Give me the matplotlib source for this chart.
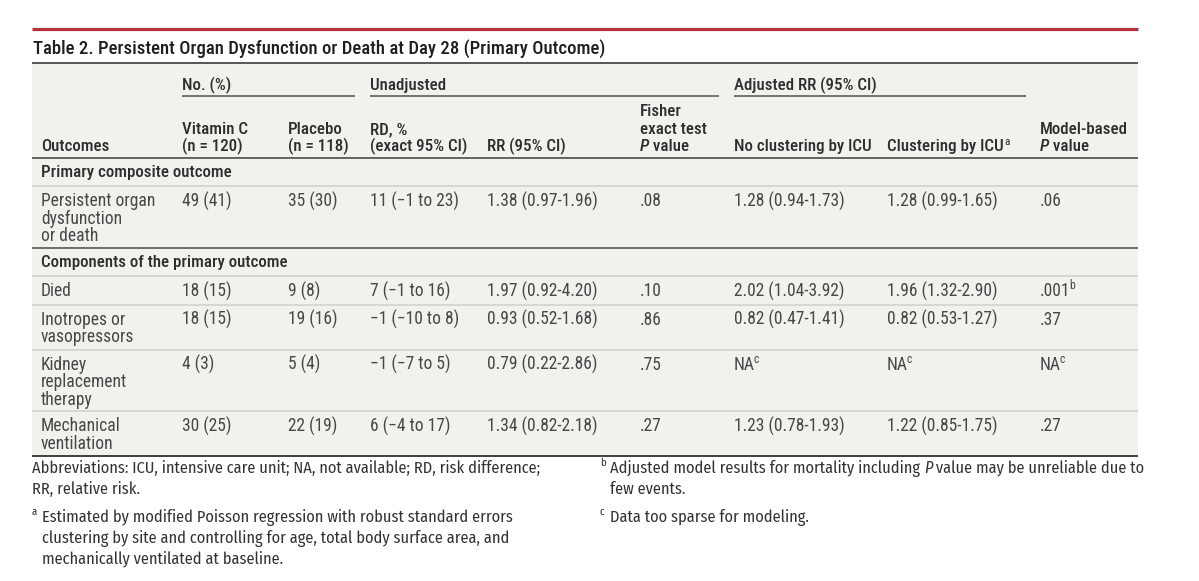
import matplotlib
matplotlib.use("Agg")
import matplotlib.pyplot as plt

# ---------------- data ----------------
title = "Table 2. Persistent Organ Dysfunction or Death at Day 28 (Primary Outcome)"
group_headers = ["No. (%)", "Unadjusted", "Adjusted RR (95% CI)"]
column_headers = [
    ["Outcomes"],
    ["Vitamin C", "(n = 120)"],
    ["Placebo", "(n = 118)"],
    ["RD, %", "(exact 95% CI)"],
    ["RR (95% CI)"],
    ["Fisher", "exact test", "*P* value"],
    ["No clustering by ICU"],
    ["Clustering by ICU^a"],
    ["Model-based", "*P* value"],
]
sections = ["Primary composite outcome", "Components of the primary outcome"]
outcomes = ["Persistent organ\ndysfunction\nor death", "Died", "Inotropes or\nvasopressors",
            "Kidney\nreplacement\ntherapy", "Mechanical\nventilation"]
outcome_section = [0, 1, 1, 1, 1]
vitamin_c = ["49 (41)", "18 (15)", "18 (15)", "4 (3)", "30 (25)"]
placebo = ["35 (30)", "9 (8)", "19 (16)", "5 (4)", "22 (19)"]
rd_pct = ["11 (\u22121 to 23)", "7 (\u22121 to 16)", "\u22121 (\u221210 to 8)", "\u22121 (\u22127 to 5)", "6 (\u22124 to 17)"]
rr_ci = ["1.38 (0.97-1.96)", "1.97 (0.92-4.20)", "0.93 (0.52-1.68)", "0.79 (0.22-2.86)", "1.34 (0.82-2.18)"]
fisher_p = [".08", ".10", ".86", ".75", ".27"]
adj_no_cluster = ["1.28 (0.94-1.73)", "2.02 (1.04-3.92)", "0.82 (0.47-1.41)", "NA^c", "1.23 (0.78-1.93)"]
adj_cluster = ["1.28 (0.99-1.65)", "1.96 (1.32-2.90)", "0.82 (0.53-1.27)", "NA^c", "1.22 (0.85-1.75)"]
model_p = [".06", ".001^b", ".37", "NA^c", ".27"]
footnotes_left = [
    ("", ["Abbreviations: ICU, intensive care unit; NA, not available; RD, risk difference;",
          "RR, relative risk."]),
    ("a", ["Estimated by modified Poisson regression with robust standard errors",
           "clustering by site and controlling for age, total body surface area, and",
           "mechanically ventilated at baseline."]),
]
footnotes_right = [
    ("b", ["Adjusted model results for mortality including *P* value may be unreliable due to",
           "few events."]),
    ("c", ["Data too sparse for modeling."]),
]

# ---------------- style ----------------
TABLE_FONT = ["Roboto Condensed", "Roboto", "DejaVu Sans"]
NOTE_FONT = ["Fira Sans Condensed", "Roboto Condensed", "DejaVu Sans"]
plt.rcParams["font.family"] = TABLE_FONT
BG = "#f2f1ec"
TXT = "#474747"
HDR = "#2e2e2e"
DARK = "#5a5a5a"
LIGHT = "#d9d7d1"
RED = "#b5323e"

W, H = 1199, 581
fig = plt.figure(figsize=(W / 100, H / 100), dpi=100)
fig.patch.set_facecolor("white")
ax = fig.add_axes([0, 0, 1, 1])
ax.set_xlim(0, W)
ax.set_ylim(H, 0)
ax.axis("off")
renderer = fig.canvas.get_renderer()


def text_width(s, size, weight="normal", family=None, style="normal"):
    t = ax.text(0, 0, s, fontsize=size, fontweight=weight, family=family or TABLE_FONT,
                fontstyle=style)
    w = t.get_window_extent(renderer).width
    t.remove()
    return w


def fit_size(sample, target_px, weight="normal", family=None):
    return 10.0 * target_px / text_width(sample, 10.0, weight, family)


# font sizes fitted to the measured widths of sample strings in the reference
FS = 0.5 * (fit_size("1.38 (0.97-1.96)", 116, "normal") + fit_size("Persistent organ", 108, "normal"))
FS_H = fit_size("No clustering by ICU", 137, "medium")
FS_TITLE = fit_size(title, 568, "medium")
FS_NOTE = (fit_size("Abbreviations: ICU, intensive care unit; NA, not available; RD, risk difference;",
                    515, "normal", NOTE_FONT) *
           fit_size("Adjusted model results for mortality including P value may be unreliable due to",
                    522, "normal", NOTE_FONT)) ** 0.5

L, R = 32, 1138
col_x = [41, 182, 288, 370, 487, 640, 734, 887, 1040]
group_x = [(182, 355), (370, 719), (734, 1026)]
LS = 17.4    # line spacing in table
NLS = 21.0   # line spacing in notes


def base(size):
    return size * 1.389 * 0.70 / 2.0


def parse(s):
    parts = []
    sup = None
    if "^" in s:
        s, sup = s.split("^")
    if s.startswith("*"):
        _, it, rest = s.split("*", 2)
        parts.append((it, {"style": "italic"}))
        if rest:
            parts.append((rest, {}))
    elif "*" in s:
        a, it, rest = s.split("*", 2)
        parts.append((a, {}))
        parts.append((it, {"style": "italic"}))
        parts.append((rest, {}))
    else:
        parts.append((s, {}))
    if sup:
        parts.append((sup, {"sup": True}))
    return parts


def rich(x, yc, s, size=None, color=TXT, weight="normal", family=None):
    size = size or FS
    family = family or TABLE_FONT
    b = base(size)
    cur = x
    for txt, kw in parse(s):
        if kw.get("sup"):
            shift = -1.6 if weight == "normal" else 0.8
            t = ax.text(cur + shift, yc + b - size * 0.55, txt, fontsize=size * 0.66, color=color,
                        va="baseline", ha="left", family=family)
        else:
            t = ax.text(cur, yc + b, txt, fontsize=size, color=color, va="baseline",
                        ha="left", fontweight=weight, fontstyle=kw.get("style", "normal"),
                        family=family)
        cur += t.get_window_extent(renderer).width
    return cur


def hline(y, x0, x1, color, lw_px):
    ax.plot([x0, x1], [y, y], color=color, lw=lw_px * 0.72, solid_capstyle="butt")


# red rule and title
hline(28.5, L, R, RED, 3.2)
ax.text(L + 1, 47 + base(FS_TITLE), title, fontsize=FS_TITLE, color="#1f1f1f", va="baseline",
        ha="left", fontweight="medium")

top, header_bottom = 63.0, 157.5
rows_layout = []
cur = header_bottom
sec_prev = None
for i, name in enumerate(outcomes):
    if outcome_section[i] != sec_prev:
        rows_layout.append(("section", sections[outcome_section[i]], cur))
        cur += 28.5
        sec_prev = outcome_section[i]
    n = name.count("\n") + 1
    rows_layout.append(("row", i, cur))
    cur += 28.5 + 16.5 * (n - 1)
bottom = cur
ax.add_patch(plt.Rectangle((L, top), R - L, bottom - top, facecolor=BG, edgecolor="none", zorder=0))

# header
hline(top, L, R, DARK, 2.0)
for (x0, x1), g in zip(group_x, group_headers):
    rich(x0, 84, g, size=FS_H, color=HDR, weight="medium")
    hline(95.5, x0, x1, DARK, 1.6)
last_y = 145.3
for x, lines in zip(col_x, column_headers):
    n = len(lines)
    for k, ln in enumerate(lines):
        rich(x, last_y - (n - 1 - k) * LS, ln, size=FS_H, color=HDR, weight="medium")
hline(header_bottom, L, R, "#444444", 1.6)

# body
first = True
for kind, val, ytop in rows_layout:
    if kind == "section":
        if not first:
            hline(ytop, L, R, "#444444", 1.5)
        first = False
        rich(col_x[0], ytop + 14, val, size=FS_H, color=HDR, weight="medium")
        hline(ytop + 28.5, L, R, LIGHT, 2.0)
    else:
        i = val
        yc = ytop + 14.3
        for k, ln in enumerate(outcomes[i].split("\n")):
            rich(col_x[0], yc + k * LS, ln)
        cells = [vitamin_c[i], placebo[i], rd_pct[i], rr_ci[i], fisher_p[i],
                 adj_no_cluster[i], adj_cluster[i], model_p[i]]
        for x, c in zip(col_x[1:], cells):
            rich(x, yc, c)
        n = outcomes[i].count("\n") + 1
        yb = ytop + 28.5 + 16.5 * (n - 1)
        if i + 1 < len(outcomes) and outcome_section[i + 1] == outcome_section[i]:
            hline(yb, L, R, LIGHT, 2.0)
hline(bottom, L, R, "#444444", 2.0)


def notes(x, items, y0):
    y = y0
    for sup, lines in items:
        tx = x if not sup else x + 10
        if sup:
            ax.text(x, y + base(FS_NOTE) - FS_NOTE * 0.55, sup, fontsize=FS_NOTE * 0.66,
                    color="#333333", va="baseline", family=NOTE_FONT)
        for ln in lines:
            rich(tx, y, ln, size=FS_NOTE, color="#333333", family=NOTE_FONT)
            y += NLS
        y += 7.0

notes(L, footnotes_left, 467)
notes(600, footnotes_right, 467)

fig.savefig("out.png", dpi=100, facecolor="white")
